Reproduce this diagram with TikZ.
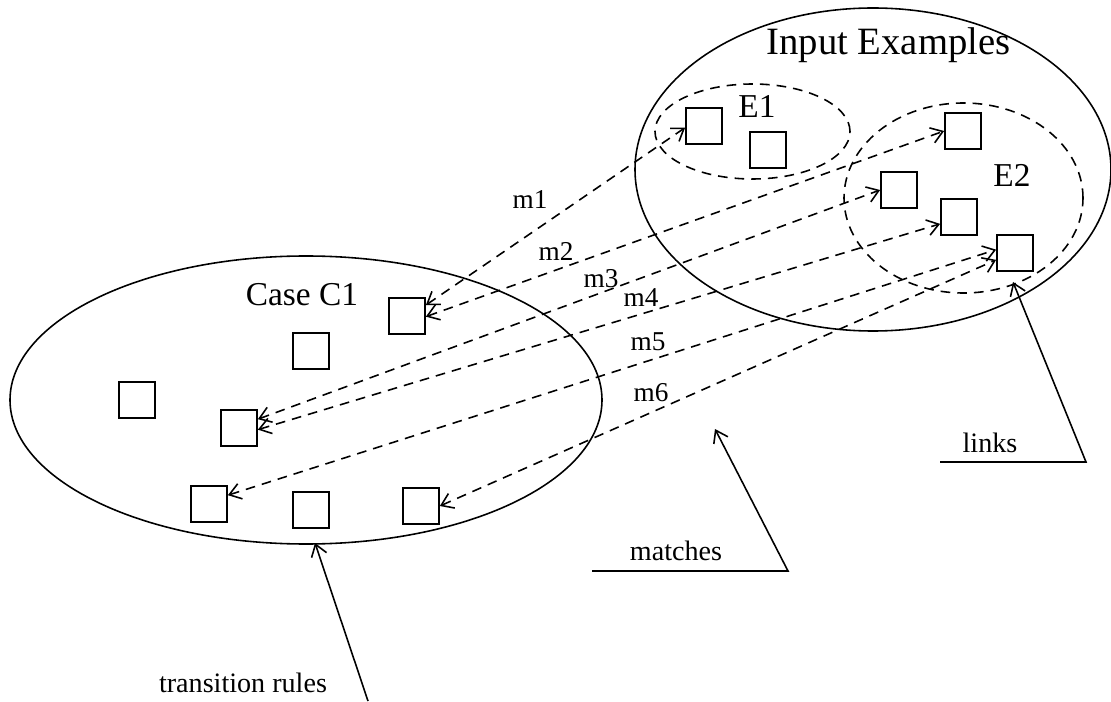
\documentclass[tikz,border=0pt]{standalone}
\usepackage{fontspec}
\setmainfont{Liberation Serif}
\usetikzlibrary{arrows.meta}

\begin{document}
\begin{tikzpicture}[box/.style={draw, line width=1pt, minimum size=0.72cm, inner sep=0pt},
  link/.style={line width=0.9pt, dash pattern=on 5.5pt off 4pt, {Straight Barb[length=6.5pt,width=9pt]}-{Straight Barb[length=6.5pt,width=9pt]}},
  pointer/.style={line width=0.9pt, -{Straight Barb[length=6.5pt,width=9pt]}},
  setname/.style={font=\fontsize{19}{22}\selectfont, inner sep=0pt},
  mname/.style={font=\fontsize{15.5}{18}\selectfont, inner sep=0pt},
  note/.style={font=\fontsize{16}{19}\selectfont, inner sep=0pt}]
\useasboundingbox (0,0) rectangle (22.22,14.02);
% sets
\draw[line width=0.9pt] (6.12,6.02) ellipse [x radius=5.92, y radius=2.88];
\draw[line width=0.9pt] (17.46,10.63) ellipse [x radius=4.76, y radius=3.23];
\draw[line width=0.9pt, dash pattern=on 5.5pt off 4pt] (15.05,11.39) ellipse [x radius=1.95, y radius=0.95];
\draw[line width=0.9pt, dash pattern=on 5.5pt off 4pt] (19.27,10.06) ellipse [x radius=2.39, y radius=1.90];
\node[setname] (C1) at (6.04,8.12) {Case C1};
\node[setname, font=\fontsize{22}{25}\selectfont] (IE) at (17.77,13.12) {Input Examples};
\node[setname] (E1) at (15.14,11.90) {E1};
\node[setname] (E2) at (20.24,10.52) {E2};
% case boxes
\node[box] (C1N1) at (2.74,6.02) {};
\node[box] (C1N2) at (4.78,5.46) {};
\node[box] (C1N3) at (4.18,3.94) {};
\node[box] (C1N4) at (6.22,7.00) {};
\node[box] (C1N5) at (6.22,3.82) {};
\node[box] (C1N6) at (8.14,7.70) {};
\node[box] (C1N7) at (8.42,3.90) {};
% example boxes
\node[box] (E1N1) at (14.08,11.50) {};
\node[box] (E1N2) at (15.36,11.02) {};
\node[box] (E2N1) at (19.26,11.40) {};
\node[box] (E2N2) at (17.98,10.22) {};
\node[box] (E2N3) at (19.18,9.68) {};
\node[box] (E2N4) at (20.30,8.96) {};
% matches
\draw[link] (C1N6.30) -- (E1N1.185);
\draw[link] (C1N6.-2) -- (E2N1.west);
\draw[link] (C1N2.25) -- (E2N2.west);
\draw[link] (C1N2.-5) -- (E2N3.200);
\draw[link] (C1N3.25) -- (E2N4.170);
\draw[link] (C1N7.east) -- (E2N4.200);
\node[mname] (M1) at (10.60,10.02) {m1};
\node[mname] (M2) at (11.12,9.00) {m2};
\node[mname] (M3) at (12.02,8.44) {m3};
\node[mname] (M4) at (12.82,8.06) {m4};
\node[mname] (M5) at (12.96,7.18) {m5};
\node[mname] (M6) at (13.02,6.16) {m6};
% notes
\node[note] (LK) at (19.80,5.16) {links};
\coordinate (LK1) at (18.80,4.78);
\coordinate (LK2) at (21.72,4.78);
\coordinate (LKT) at (20.26,8.38);
\draw[pointer] (LK1) -- (LK2) -- (LKT);
\node[note] (MT) at (13.52,3.00) {matches};
\coordinate (MT1) at (11.84,2.60);
\coordinate (MT2) at (15.76,2.60);
\coordinate (MTT) at (14.30,5.44);
\draw[pointer] (MT1) -- (MT2) -- (MTT);
\node[note] (TR) at (4.86,0.36) {transition rules};
\coordinate (TR1) at (7.36,0);
\coordinate (TRT) at (6.30,3.16);
\draw[pointer] (TR1) -- (TRT);
\end{tikzpicture}
\end{document}
